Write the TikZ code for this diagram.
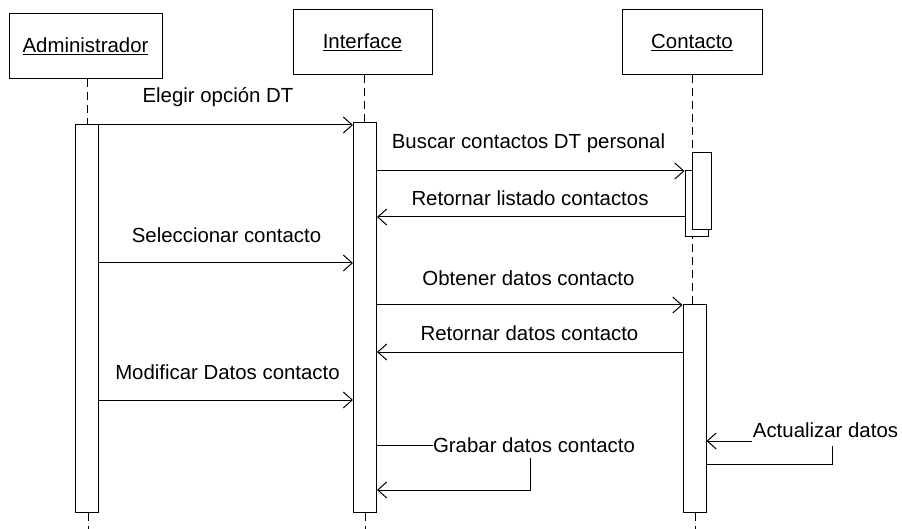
\documentclass[tikz,border=0pt]{standalone}
\usepackage{fontspec}
\setmainfont{Liberation Sans}
\usetikzlibrary{arrows.meta}
\begin{document}
\begin{tikzpicture}[x=1pt,y=-1pt,line width=1pt,
  obj/.style={draw,rectangle,minimum width=#1,minimum height=65pt,inner sep=0pt,
    font=\fontsize{20.4}{24}\selectfont},
  act/.style={draw,fill=white,rectangle,inner sep=0pt,minimum width=#1},
  act/.default=23pt,
  life/.style={dash pattern=on 8pt off 5pt},
  msg/.style={-{Straight Barb[length=9pt,width=16pt]}},
  lbl/.style={inner sep=0pt,font=\fontsize{20.4}{24}\selectfont}]
\useasboundingbox (0,0) rectangle (902,529);

% objects
\node[obj=153pt] (adm) at (85.5,46) {\underline{Administrador}};
\node[obj=139pt] (ifc) at (362.5,42.5) {\underline{Interface}};
\node[obj=140pt] (con) at (692,42.5) {\underline{Contacto}};

% lifelines
\coordinate (admEnd) at (88,529);
\coordinate (ifcEnd) at (365,529);
\coordinate (conEnd) at (695,529);
\draw[life] (87,79) -- (87,125);
\draw[life] (364,75) -- (364,123);
\draw[life] (692,75) -- (692,305);

% activation bars
\node[act,minimum height=387pt] (aA) at (87,318.5) {};
\node[act,minimum height=389pt] (aI) at (365,317.5) {};
\node[act,minimum height=66pt] (aC0) at (696.5,204) {};
\node[act=19pt,minimum height=77pt] (aC1) at (701.5,191.5) {};
\node[act,minimum height=207pt] (aC2) at (694.5,408.5) {};

\draw[life] (aA.south -| admEnd) -- (admEnd);
\draw[life] (aI.south -| ifcEnd) -- (ifcEnd);
\draw[life] (aC2.south -| conEnd) -- (conEnd);

% messages
\node[lbl] (m1) at (218,97) {Elegir opción DT};
\draw[msg] (aA.east |- 0,125) -- (aI.west |- 0,125);

\node[lbl] (m2) at (528.5,143) {Buscar contactos DT personal};
\draw[msg] (aI.east |- 0,171) -- (aC0.west |- 0,171);

\node[lbl] (m3) at (530,198) {Retornar listado contactos};
\draw[msg] (aC0.west |- 0,217) -- (aI.east |- 0,217);

\node[lbl] (m4) at (226.5,235) {Seleccionar contacto};
\draw[msg] (aA.east |- 0,263) -- (aI.west |- 0,263);

\node[lbl] (m5) at (528.5,278) {Obtener datos contacto};
\draw[msg] (aI.east |- 0,305) -- (aC2.west |- 0,305);

\node[lbl] (m6) at (529.5,333) {Retornar datos contacto};
\draw[msg] (aC2.west |- 0,352) -- (aI.east |- 0,352);

\node[lbl] (m7) at (227.5,372) {Modificar Datos contacto};
\draw[msg] (aA.east |- 0,400) -- (aI.west |- 0,400);

% self message on Interface
\node[lbl] (m8) at (534,445) {Grabar datos contacto};
\coordinate (g1) at (530,458);
\draw (aI.east |- m8.west) -- (m8.west);
\draw[msg] (g1) -- (g1 |- 0,490) -- (aI.east |- 0,490);

% self message on Contacto
\node[lbl] (m9) at (825.5,430) {Actualizar datos};
\coordinate (u1) at (832,446);
\draw[msg] (m9.west |- 0,441) -- (aC2.east |- 0,441);
\draw (u1) -- (u1 |- 0,464) -- (aC2.east |- 0,464);
\end{tikzpicture}
\end{document}
